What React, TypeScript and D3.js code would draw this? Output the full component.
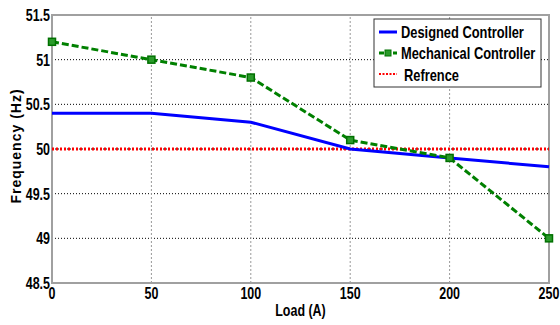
import React from 'react'
import * as d3 from 'd3'

const loads = [0, 50, 100, 150, 200, 250]
const designed = [50.4, 50.4, 50.3, 50.0, 49.9, 49.8]
const mechanical = [51.2, 51.0, 50.8, 50.1, 49.9, 49.0]
const reference = [50, 50, 50, 50, 50, 50]
const xTicks = [0, 50, 100, 150, 200, 250]
const yTicks = [48.5, 49, 49.5, 50, 50.5, 51, 51.5]

const W = 560, H = 325
const m = { left: 52, right: 11, top: 15, bottom: 42 }
const font = '"Liberation Sans", Arial, sans-serif'

// narrow text, like Arial Narrow, by squeezing x
const T = ({ x, y, anchor = 'start', size = 16, sx = 0.78, children }: any) => (
  <text transform={`translate(${x},${y}) scale(${sx},1)`} textAnchor={anchor} fontSize={size}>{children}</text>
)

export default function App() {
  const x = d3.scaleLinear().domain([0, 250]).range([m.left, W - m.right])
  const y = d3.scaleLinear().domain([48.5, 51.5]).range([H - m.bottom, m.top])
  const ln = d3.line<number>().x((d, i) => x(loads[i])).y(d => y(d))

  return (
    <svg width={W} height={H} style={{ position: 'absolute', left: 0, top: 0 }} fontFamily={font} fontWeight="bold">
      <rect x={0} y={0} width={W} height={H} fill="#fff" />
      {/* grid */}
      {yTicks.slice(1, -1).map(t => (
        <line key={'gy' + t} x1={x(0)} x2={x(250)} y1={y(t)} y2={y(t)} stroke="#000" strokeWidth={1} strokeDasharray="1,2" />
      ))}
      {xTicks.slice(1, -1).map(t => (
        <line key={'gx' + t} x1={x(t)} x2={x(t)} y1={y(48.5)} y2={y(51.5)} stroke="#999" strokeWidth={1} strokeDasharray="2,2" />
      ))}
      {/* axes box */}
      <rect x={x(0)} y={y(51.5)} width={x(250) - x(0)} height={y(48.5) - y(51.5)} fill="none" stroke="#a0a0a0" strokeWidth={2} />
      {/* tick labels */}
      {yTicks.map(t => (
        <T key={'ty' + t} x={x(0) - 2} y={y(t) + 6} anchor="end">{t}</T>
      ))}
      {xTicks.map(t => (
        <T key={'tx' + t} x={x(t)} y={y(48.5) + 16} anchor="middle">{t}</T>
      ))}
      <T x={(x(0) + x(250)) / 2} y={316} anchor="middle">Load (A)</T>
      <text transform={`translate(21, ${(y(48.5) + y(51.5)) / 2 - 3}) rotate(-90)`} textAnchor="middle" fontSize={14} letterSpacing={1}>Frequency (Hz)</text>
      {/* series */}
      <path d={ln(reference) || ''} fill="none" stroke="#ff0000" strokeWidth={3} strokeDasharray="2,2" />
      <path d={ln(designed) || ''} fill="none" stroke="#0000ff" strokeWidth={3} />
      <path d={ln(mechanical) || ''} fill="none" stroke="#008000" strokeWidth={3} strokeDasharray="7,3" />
      {mechanical.map((v, i) => (
        <rect key={'mk' + i} x={x(loads[i]) - 3.5} y={y(v) - 3.5} width={7} height={7} fill="#2a9a2a" stroke="#007000" strokeWidth={1.5} />
      ))}
      {/* legend */}
      <g>
        <rect x={374} y={19} width={167} height={68} fill="#fff" stroke="#333" strokeWidth={1} />
        <line x1={379} x2={397} y1={32} y2={32} stroke="#0000ff" strokeWidth={3} />
        <T x={401} y={38} size={16.5}>Designed Controller</T>
        <line x1={379} x2={397} y1={53} y2={53} stroke="#008000" strokeWidth={3} strokeDasharray="5,2" />
        <rect x={385} y={50} width={6} height={6} fill="#2a9a2a" stroke="#007000" strokeWidth={1} />
        <T x={401} y={59} size={16.5}>Mechanical Controller</T>
        <line x1={379} x2={397} y1={74} y2={74} stroke="#ff0000" strokeWidth={2} strokeDasharray="2,1.5" />
        <T x={404} y={81} size={16.5}>Refrence</T>
      </g>
    </svg>
  )
}
